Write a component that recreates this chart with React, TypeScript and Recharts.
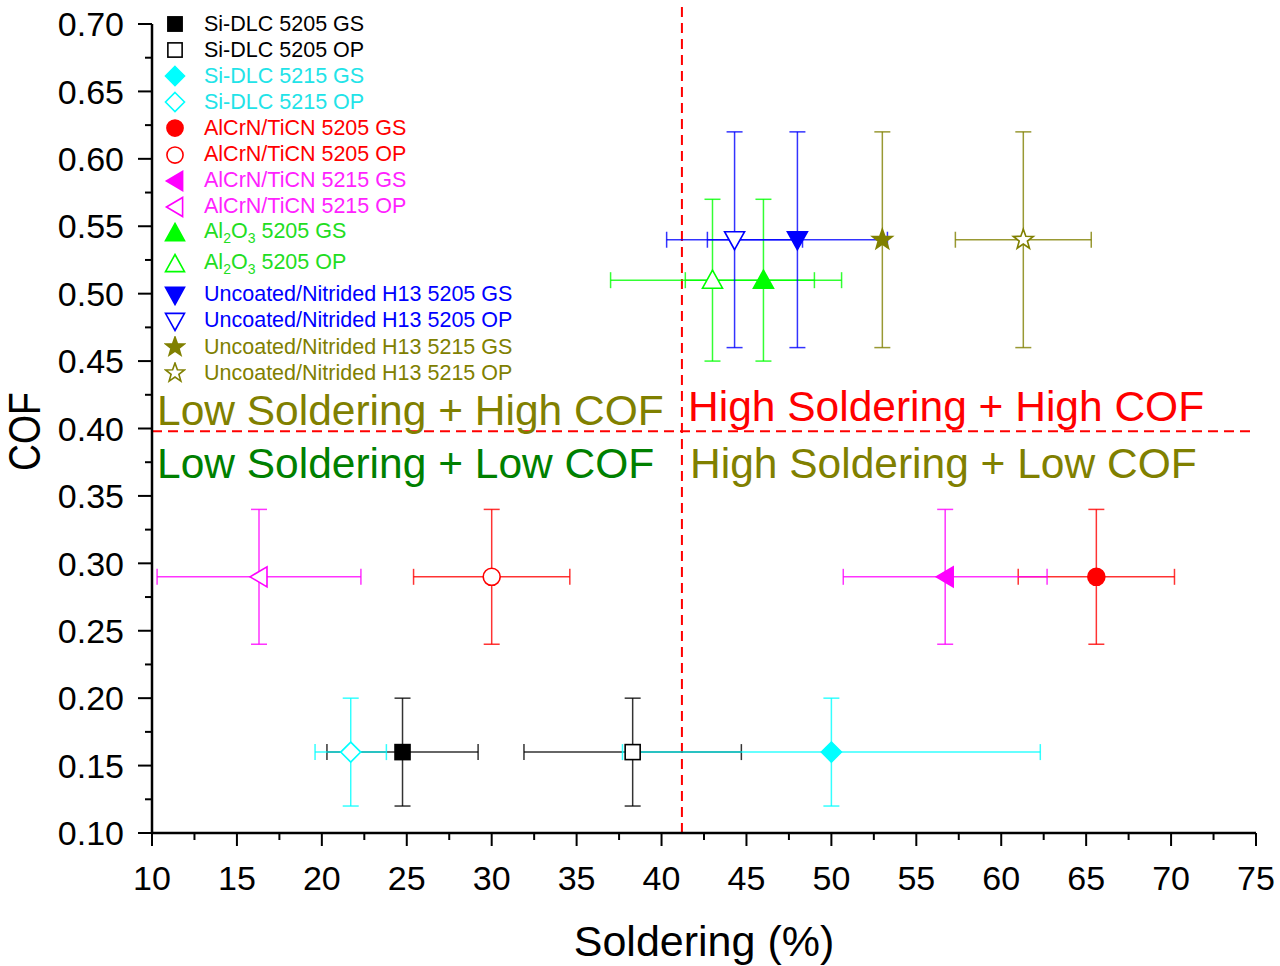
import React from "react";
import {
  ScatterChart,
  Scatter,
  XAxis,
  YAxis,
  ErrorBar,
  ReferenceLine,
  Legend,
} from "recharts";

const FONT = '"Liberation Sans", Arial, Helvetica, sans-serif';

const seriesNames = [
  "Si-DLC 5205 GS",
  "Si-DLC 5205 OP",
  "Si-DLC 5215 GS",
  "Si-DLC 5215 OP",
  "AlCrN/TiCN 5205 GS",
  "AlCrN/TiCN 5205 OP",
  "AlCrN/TiCN 5215 GS",
  "AlCrN/TiCN 5215 OP",
  "Al2O3 5205 GS",
  "Al2O3 5205 OP",
  "Uncoated/Nitrided H13 5205 GS",
  "Uncoated/Nitrided H13 5205 OP",
  "Uncoated/Nitrided H13 5215 GS",
  "Uncoated/Nitrided H13 5215 OP",
];

// soldering (%) and its error
const soldering = [24.75, 38.3, 50.0, 21.7, 65.6, 30.0, 56.7, 16.3, 46.0, 43.0, 48.0, 44.3, 53.0, 61.3];
const solderingErr = [4.45, 6.4, 12.3, 2.1, 4.6, 4.6, 6.0, 6.0, 4.6, 6.0, 5.3, 4.0, 0, 4.0];

// COF and its error
const cof = [0.16, 0.16, 0.16, 0.16, 0.29, 0.29, 0.29, 0.29, 0.51, 0.51, 0.54, 0.54, 0.54, 0.54];
const cofErr = [0.04, 0.04, 0.04, 0.04, 0.05, 0.05, 0.05, 0.05, 0.06, 0.06, 0.08, 0.08, 0.08, 0.08];

const xMajorTicks = [10, 15, 20, 25, 30, 35, 40, 45, 50, 55, 60, 65, 70, 75];
const xMinorTicks = [12.5, 17.5, 22.5, 27.5, 32.5, 37.5, 42.5, 47.5, 52.5, 57.5, 62.5, 67.5, 72.5];
const yMajorTicks = [0.1, 0.15, 0.2, 0.25, 0.3, 0.35, 0.4, 0.45, 0.5, 0.55, 0.6, 0.65, 0.7];
const yMinorTicks = [0.125, 0.175, 0.225, 0.275, 0.325, 0.375, 0.425, 0.475, 0.525, 0.575, 0.625, 0.675];

const dividerSoldering = 41.2;
const dividerCof = 0.398;

const quadrantLabels = [
  "Low Soldering + High COF",
  "High Soldering + High COF",
  "Low Soldering + Low COF",
  "High Soldering + Low COF",
];

type Kind = "square" | "diamond" | "circle" | "left" | "up" | "down" | "star";

const seriesStyle: { color: string; kind: Kind; filled: boolean }[] = [
  { color: "#000000", kind: "square", filled: true },
  { color: "#000000", kind: "square", filled: false },
  { color: "#00ffff", kind: "diamond", filled: true },
  { color: "#00ffff", kind: "diamond", filled: false },
  { color: "#ff0000", kind: "circle", filled: true },
  { color: "#ff0000", kind: "circle", filled: false },
  { color: "#ff00ff", kind: "left", filled: true },
  { color: "#ff00ff", kind: "left", filled: false },
  { color: "#00ff00", kind: "up", filled: true },
  { color: "#00ff00", kind: "up", filled: false },
  { color: "#0000ff", kind: "down", filled: true },
  { color: "#0000ff", kind: "down", filled: false },
  { color: "#808000", kind: "star", filled: true },
  { color: "#808000", kind: "star", filled: false },
];

const legendTextColor = [
  "#000000", "#000000", "#22e3e8", "#22e3e8", "#ff0000", "#ff0000", "#ff22ff",
  "#ff22ff", "#22dd22", "#22dd22", "#0000ff", "#0000ff", "#808000", "#808000",
];

function starPoints(cx: number, cy: number, ro: number, ri: number) {
  const pts: string[] = [];
  for (let i = 0; i < 10; i++) {
    const r = i % 2 === 0 ? ro : ri;
    const a = -Math.PI / 2 + (i * Math.PI) / 5;
    pts.push(`${cx + r * Math.cos(a)},${cy + r * Math.sin(a)}`);
  }
  return pts.join(" ");
}

function Marker({ cx, cy, kind, filled, color, s = 1 }: {
  cx: number; cy: number; kind: Kind; filled: boolean; color: string; s?: number;
}) {
  const fill = filled ? color : "#ffffff";
  const common = { fill, stroke: color, strokeWidth: 1.6 };
  switch (kind) {
    case "square":
      return <rect x={cx - 7.5 * s} y={cy - 7.5 * s} width={15 * s} height={15 * s} {...common} />;
    case "diamond":
      return (
        <polygon
          points={`${cx},${cy - 10 * s} ${cx + 10 * s},${cy} ${cx},${cy + 10 * s} ${cx - 10 * s},${cy}`}
          {...common}
        />
      );
    case "circle":
      return <circle cx={cx} cy={cy} r={8.5 * s} {...common} />;
    case "left":
      return (
        <polygon
          points={`${cx - 9 * s},${cy} ${cx + 8 * s},${cy - 10 * s} ${cx + 8 * s},${cy + 10 * s}`}
          {...common}
        />
      );
    case "up":
      return (
        <polygon
          points={`${cx},${cy - 10 * s} ${cx + 10 * s},${cy + 8 * s} ${cx - 10 * s},${cy + 8 * s}`}
          {...common}
        />
      );
    case "down":
      return (
        <polygon
          points={`${cx},${cy + 10 * s} ${cx + 10 * s},${cy - 8 * s} ${cx - 10 * s},${cy - 8 * s}`}
          {...common}
        />
      );
    default:
      return <polygon points={starPoints(cx, cy, 10.5 * s, 4.3 * s)} {...common} />;
  }
}

function renderName(name: string) {
  if (!name.startsWith("Al2O3")) return name;
  return (
    <>
      Al<sub style={{ fontSize: 14 }}>2</sub>O<sub style={{ fontSize: 14 }}>3</sub>
      {name.slice(5)}
    </>
  );
}

const renderLegend = () => (
  <div style={{ fontFamily: FONT, fontSize: 21.5 }}>
    {seriesNames.map((name, i) => (
      <div
        key={name}
        style={{
          display: "flex",
          alignItems: "center",
          height: i === 9 ? 36 : 26.1,
          color: legendTextColor[i],
          whiteSpace: "nowrap",
        }}
      >
        <svg width={22} height={22} style={{ marginRight: 18, flex: "none" }}>
          <Marker cx={11} cy={11} s={0.95} {...seriesStyle[i]} />
        </svg>
        <span>{renderName(name)}</span>
      </div>
    ))}
  </div>
);

const isMajor = (v: number, step: number) =>
  Math.abs(Math.round(v / step) * step - v) < 1e-6;

const renderXTick = (props: any) => {
  const { x, y, payload } = props;
  const major = isMajor(payload.value, 5);
  return (
    <g>
      <line x1={x} x2={x} y1={y} y2={y + (major ? 13 : 7)} stroke="#000" strokeWidth={2} />
      {major && (
        <text x={x} y={y + 57} textAnchor="middle" fontSize={34} fontFamily={FONT} fill="#000">
          {payload.value}
        </text>
      )}
    </g>
  );
};

const renderYTick = (props: any) => {
  const { x, y, payload } = props;
  const major = isMajor(payload.value, 0.05);
  return (
    <g>
      <line x1={x} x2={x - (major ? 14 : 7)} y1={y} y2={y} stroke="#000" strokeWidth={2} />
      {major && (
        <text x={x - 28} y={y} dy="0.36em" textAnchor="end" fontSize={34} fontFamily={FONT} fill="#000">
          {payload.value.toFixed(2)}
        </text>
      )}
    </g>
  );
};

export default function App() {
  const xTicks = [...xMajorTicks, ...xMinorTicks].sort((a, b) => a - b);
  const yTicks = [...yMajorTicks, ...yMinorTicks].sort((a, b) => a - b);

  return (
    <div style={{ position: "absolute", left: 0, top: 0, width: 1280, height: 966, background: "#fff" }}>
      <ScatterChart
        width={1280}
        height={966}
        margin={{ top: 24, right: 24, left: 0, bottom: 0 }}
      >
        <XAxis
          type="number"
          dataKey="x"
          domain={[10, 75]}
          ticks={xTicks}
          interval={0}
          tickSize={0}
          tickMargin={0}
          tick={renderXTick}
          axisLine={{ stroke: "#000", strokeWidth: 2.5 }}
          height={133}
          allowDataOverflow
          label={{
            content: (p: any) => (
              <text
                x={p.viewBox.x + p.viewBox.width / 2}
                y={p.viewBox.y + 123}
                textAnchor="middle"
                fontSize={43}
                fontFamily={FONT}
                fill="#000"
              >
                Soldering (%)
              </text>
            ),
          }}
        />
        <YAxis
          type="number"
          dataKey="y"
          domain={[0.1, 0.7]}
          ticks={yTicks}
          interval={0}
          tickSize={0}
          tickMargin={0}
          tick={renderYTick}
          axisLine={{ stroke: "#000", strokeWidth: 2.5 }}
          width={152}
          allowDataOverflow
          label={{
            content: (p: any) => {
              const cx = 24;
              const cy = p.viewBox.y + p.viewBox.height / 2 + 3;
              return (
                <text
                  transform={`translate(${cx},${cy}) rotate(-90) scale(0.85,1)`}
                  textAnchor="middle"
                  dy="0.36em"
                  fontSize={44}
                  fontFamily={FONT}
                  fill="#000"
                >
                  COF
                </text>
              );
            },
          }}
        />
        <ReferenceLine
          y={dividerCof}
          stroke="#ff0000"
          strokeWidth={2}
          strokeDasharray="10 6"
        />
        <ReferenceLine
          segment={[
            { x: dividerSoldering, y: 0.1 },
            { x: dividerSoldering, y: 0.714 },
          ]}
          ifOverflow="visible"
          stroke="#ff0000"
          strokeWidth={2}
          strokeDasharray="10 6"
        />
        <Legend
          layout="vertical"
          align="center"
          verticalAlign="middle"
          wrapperStyle={{ left: 164, top: 11, width: 420 }}
          content={renderLegend}
        />
        {seriesNames.map((name, i) => {
          const st = seriesStyle[i];
          return (
            <Scatter
              key={name}
              name={name}
              data={[{ x: soldering[i], y: cof[i], xErr: solderingErr[i], yErr: cofErr[i] }]}
              isAnimationActive={false}
              shape={(p: any) => (
                <Marker cx={p.cx} cy={p.cy} kind={st.kind} filled={st.filled} color={st.color} />
              )}
            >
              <ErrorBar
                dataKey="xErr"
                direction="x"
                width={8}
                stroke={st.color}
                strokeWidth={1.5}
                strokeOpacity={0.8}
                isAnimationActive={false}
              />
              <ErrorBar
                dataKey="yErr"
                direction="y"
                width={8}
                stroke={st.color}
                strokeWidth={1.5}
                strokeOpacity={0.8}
                isAnimationActive={false}
              />
            </Scatter>
          );
        })}
      </ScatterChart>
      <svg
        width={1280}
        height={966}
        style={{ position: "absolute", left: 0, top: 0, pointerEvents: "none" }}
      >
        <g fontFamily={FONT} fontSize={42.5}>
          <text x={157} y={425} fill="#808000">{quadrantLabels[0]}</text>
          <text x={688} y={421} fill="#ff0000">{quadrantLabels[1]}</text>
          <text x={157} y={478} fill="#008000">{quadrantLabels[2]}</text>
          <text x={690} y={478} fill="#808000">{quadrantLabels[3]}</text>
        </g>
      </svg>
    </div>
  );
}
